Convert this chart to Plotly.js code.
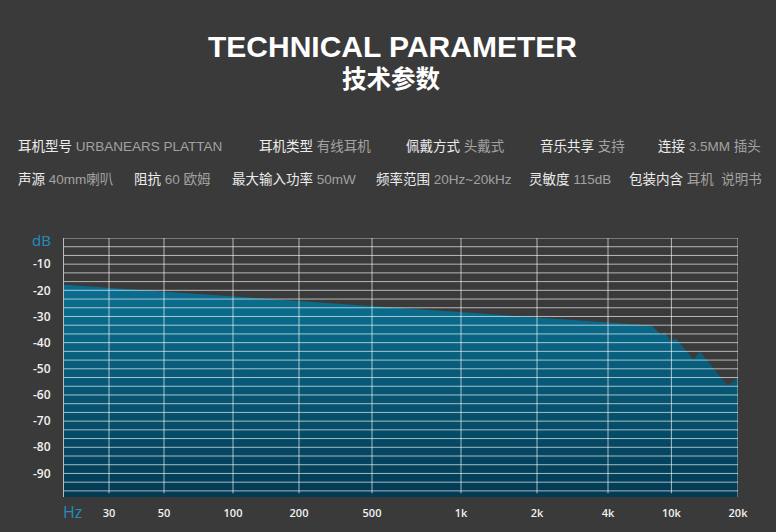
<!DOCTYPE html>
<html>
<head>
<meta charset="utf-8">
<script src="https://cdn.plot.ly/plotly-3.0.1.min.js"></script>
<style>
html,body{margin:0;padding:0;background:#3a3a3a;}
#chart{width:776px;height:532px;}
</style>
</head>
<body>
<div id="chart"></div>
<script>
// ---- data ----
var tickFreq = [20, 30, 50, 100, 200, 500, 1000, 2000, 4000, 10000, 20000];
var tickLabels = ['', '30', '50', '100', '200', '500', '1k', '2k', '4k', '10k', '20k'];
var freqHz = [20, 30, 50, 100, 200, 500, 1000, 2000, 4000, 7520, 8560, 9040, 9930, 10460, 12610, 13420, 17970, 20000];
var levelDb = [-17.9, -19.1, -20.5, -22.4, -24.1, -26.0, -28.4, -30.4, -32.3, -33.4, -37.0, -36.0, -39.5, -38.4, -46.6, -43.4, -56.5, -53.2];
var yTickVals = [-10, -20, -30, -40, -50, -60, -70, -80, -90];
var yTickLabels = ['-10', '-20', '-30', '-40', '-50', '-60', '-70', '-80', '-90'];

var paramRow1 = [
  ['耳机型号', 'URBANEARS PLATTAN'],
  ['耳机类型', '有线耳机'],
  ['佩戴方式', '头戴式'],
  ['音乐共享', '支持'],
  ['连接', '3.5MM 插头']
];
var paramRow2 = [
  ['声源', '40mm喇叭'],
  ['阻抗', '60 欧姆'],
  ['最大输入功率', '50mW'],
  ['频率范围', '20Hz~20kHz'],
  ['灵敏度', '115dB'],
  ['包装内含', '耳机&nbsp;&nbsp;说明书']
];

// ---- hand-drawn (non-uniform) frequency axis of the original chart ----
var axisTickPos = [0, 45, 100, 169, 235, 308, 397, 473, 544, 607.4, 674];
function freqToPos(f) {
  for (var i = 0; i < tickFreq.length - 1; i++) {
    if (f <= tickFreq[i + 1]) {
      var t = Math.log(f / tickFreq[i]) / Math.log(tickFreq[i + 1] / tickFreq[i]);
      return axisTickPos[i] + t * (axisTickPos[i + 1] - axisTickPos[i]);
    }
  }
  return axisTickPos[axisTickPos.length - 1];
}
var xPos = freqHz.map(freqToPos);
var yMin = -99, yMax = 0;

// ---- layout helpers (pixel -> paper) ----
var L = 64, R = 738, T = 238, B = 497;
function px(x) { return (x - L) / (R - L); }
function py(y) { return (B - y) / (B - T); }

var labelColor = '#ececec', valueColor = '#a2a2a2';
var annFont = 'Liberation Sans, Arial, Noto Sans CJK SC, sans-serif';
var annotations = [];
function addRow(items, xs, y) {
  items.forEach(function (it, i) {
    annotations.push({
      xref: 'paper', yref: 'paper', x: px(xs[i]), y: py(y),
      xanchor: 'left', yanchor: 'middle', showarrow: false,
      text: '<span style="color:' + labelColor + '">' + it[0] + '</span> <span style="color:' + valueColor + '">' + it[1] + '</span>',
      font: {family: annFont, size: 13.5, color: labelColor}
    });
  });
}
addRow(paramRow1, [16, 257, 404, 538, 656], 146);
addRow(paramRow2, [16, 132, 230, 374, 527, 627], 179);

annotations.push({
  xref: 'paper', yref: 'paper', x: px(392), y: py(47),
  xanchor: 'center', yanchor: 'middle', showarrow: false,
  text: '<b>TECHNICAL PARAMETER</b>',
  font: {family: 'Liberation Sans, Arial, sans-serif', size: 30, color: '#ffffff'}
});
annotations.push({
  xref: 'paper', yref: 'paper', x: px(391), y: py(78),
  xanchor: 'center', yanchor: 'middle', showarrow: false,
  text: '<b>技术参数</b>',
  font: {family: 'Noto Sans CJK SC, sans-serif', size: 24.5, color: '#ffffff'}
});
annotations.push({
  xref: 'paper', yref: 'paper', x: px(53), y: py(240),
  xanchor: 'right', yanchor: 'middle', showarrow: false,
  text: 'dB', font: {family: 'Open Sans, sans-serif', size: 15, color: '#1f8fc0'}
});
annotations.push({
  xref: 'paper', yref: 'paper', x: px(61), y: py(512),
  xanchor: 'left', yanchor: 'middle', showarrow: false,
  text: 'Hz', font: {family: 'Open Sans, sans-serif', size: 16, color: '#1f8fc0'}
});

// ---- grid as shapes (drawn above the fill, as in the original) ----
var gridColor = 'rgba(255,255,255,0.64)';
var shapes = [];
for (var k = 0; k < 30; k++) {
  var yv = -k * 10 / 3;
  shapes.push({type: 'line', xref: 'x', yref: 'y', x0: 0, x1: 674, y0: yv, y1: yv,
    layer: 'above', line: {color: gridColor, width: 1}});
}
for (var j = 1; j < axisTickPos.length; j++) {
  shapes.push({type: 'line', xref: 'x', yref: 'y', x0: axisTickPos[j], x1: axisTickPos[j],
    y0: 0, y1: (j === axisTickPos.length - 1 ? yMin : -97.6), layer: 'above',
    line: {color: gridColor, width: 1}});
}

var traces = [
  {x: xPos, y: xPos.map(function () { return yMin; }), type: 'scatter', mode: 'lines',
   line: {width: 0}, hoverinfo: 'skip', showlegend: false},
  {x: xPos, y: levelDb, type: 'scatter', mode: 'lines', fill: 'tonexty',
   line: {width: 0, color: '#0a6d8e'},
   fillcolor: '#075778',
   fillgradient: {type: 'vertical', start: yMin, stop: yMax,
     colorscale: [[0, '#033a53'], [0.7, '#0a6a8a'], [1, '#0b7093']]},
   showlegend: false, hoverinfo: 'skip'}
];

var layout = {
  width: 776, height: 532,
  paper_bgcolor: '#3a3a3a', plot_bgcolor: '#3a3a3a',
  margin: {l: L, r: 776 - R, t: T, b: 532 - B, pad: 0},
  showlegend: false,
  xaxis: {type: 'linear', range: [0, 674], fixedrange: true,
    tickmode: 'array', tickvals: axisTickPos, ticktext: tickLabels,
    showgrid: false, zeroline: false, showline: false, ticks: '',
    ticklabelstandoff: 8,
    tickfont: {family: 'Open Sans, sans-serif', size: 11, color: '#f2f2f2', weight: 600}},
  yaxis: {range: [yMin, yMax], fixedrange: true,
    tickmode: 'array', tickvals: yTickVals, ticktext: yTickLabels,
    showgrid: false, zeroline: false, showline: true, linecolor: '#bdbdbd', linewidth: 1,
    ticks: '', ticklabelstandoff: 10,
    tickfont: {family: 'Open Sans, sans-serif', size: 12, color: '#f2f2f2', weight: 600}},
  annotations: annotations,
  shapes: shapes
};

Plotly.newPlot('chart', traces, layout, {staticPlot: true, displayModeBar: false});
</script>
</body>
</html>
